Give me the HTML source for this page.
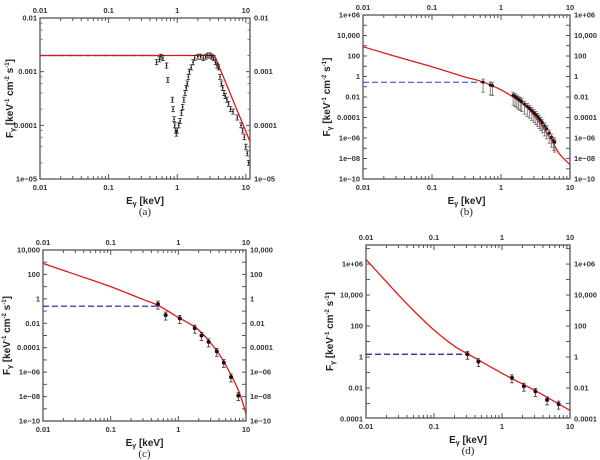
<!DOCTYPE html>
<html><head><meta charset="utf-8"><style>
html,body{margin:0;padding:0;background:#fff;width:600px;height:460px;overflow:hidden}
svg text{font-family:"Liberation Sans",sans-serif}
svg text.cap{font-family:"Liberation Serif",serif}
</style></head><body>
<svg id="fig" width="600" height="460" viewBox="0 0 600 460" xmlns="http://www.w3.org/2000/svg"></svg>
<script>
// Panel (a)
const aDataE=[0.50,0.55,0.58,0.62,0.70,0.73,0.85,0.87,0.90,0.92,0.95,0.97,1.0,1.05,1.1,1.15,1.2,1.25,1.3,1.35,1.4,1.45,1.5,1.6,1.7,1.8,2.0,2.2,2.4,2.6,2.8,3.0,3.2,3.4,3.6,3.8,4.0,4.2,4.4,4.6,4.8,5.0,5.3,5.6,6.0,6.5,7.5,8.5,9.0,9.5,10,10.5,11];
const aDataF=[0.0015,0.0017,0.0019,0.0018,0.0013,0.0007,0.0003,0.0002,0.00013,0.0001,0.00008,0.00007,0.00008,0.0001,0.00012,0.00017,0.00022,0.0003,0.0004,0.0005,0.0006,0.0008,0.001,0.0012,0.0015,0.0018,0.0019,0.0019,0.0018,0.0019,0.002,0.002,0.0019,0.0018,0.0015,0.0013,0.0012,0.0008,0.0006,0.0005,0.0004,0.00035,0.0003,0.00025,0.0002,0.00018,0.00014,0.0001,0.00008,0.00006,0.00004,0.00003,0.00002];
const aModelE=[0.01,3.5,11.5];
const aModelF=[0.002,0.002,0.00005];
const aDashE=[0.01,0.55];
const aDashF=[0.002,0.002];
// Panel (b)
const bDataE=[0.55,0.7,0.75,1.5,1.6,1.7,1.8,1.9,2.0,2.2,2.4,2.6,2.8,3.0,3.2,3.4,3.6,3.8,4.0,4.3,4.6,5.0,5.4,5.8,6.0];
const bDataF=[0.28,0.15,0.13,0.015,0.011,0.008,0.006,0.0045,0.0035,0.002,0.0012,0.0008,0.0005,0.0003,0.0002,0.00013,0.00008,0.00005,0.00003,0.000015,0.000008,0.000003,0.0000012,0.0000006,0.0000004];
const bModelE=[0.01,0.03,0.1,0.3,0.5,1,2,3,5,7,10];
const bModelF=[800,90,9,0.9,0.36,0.05,0.0025,0.00016,0.0000013,0.00000003,0.0000000025];
const bDashE=[0.01,0.55];
const bDashF=[0.27,0.27];
// Panel (c)
const cDataE=[0.5,0.65,1.05,1.75,2.2,2.8,3.7,4.7,6.0,7.7];
const cDataF=[0.37,0.047,0.025,0.004,0.001,0.0003,0.00005,0.000006,0.0000004,0.000000012];
const cModelE=[0.01,0.03,0.1,0.3,0.5,1,2,4,6,8,10];
const cModelF=[800,100,10,0.9,0.3,0.03,0.0028,0.00003,0.0000006,0.00000002,0.0000000004];
const cDashE=[0.01,0.5];
const cDashF=[0.25,0.25];
// Panel (d)
const dDataE=[0.31,0.45,1.4,2.1,3.1,4.6,6.8];
const dDataF=[1.5,0.5,0.045,0.013,0.006,0.0017,0.0009];
const dModelE=[0.01,0.02,0.0316,0.05,0.1,0.2,0.316,1,3.16,10];
const dModelF=[2000000,70800,7940,1000,55,5,1.58,0.089,0.0063,0.00036];
const dDashE=[0.01,0.31];
const dDashF=[1.5,1.5];
// Tick labels
const aYTicks=[0.01,0.001,0.0001,0.00001];
const aYLabels=["0.01","0.001","0.0001","1e\u221205"];
const bYTicks=[1e6,1e4,100,1,0.01,1e-4,1e-6,1e-8,1e-10];
const bYLabels=["1e+06","10,000","100","1","0.01","0.0001","1e\u221206","1e\u221208","1e\u221210"];
const cYTicks=[1e4,100,1,0.01,1e-4,1e-6,1e-8,1e-10];
const cYLabels=["10,000","100","1","0.01","0.0001","1e\u221206","1e\u221208","1e\u221210"];
const dYTicks=[1e6,1e4,100,1,0.01,1e-4];
const dYLabels=["1e+06","10,000","100","1","0.01","0.0001"];
const xTicks=[0.01,0.1,1,10];
const xLabels=["0.01","0.1","1","10"];

const NS="http://www.w3.org/2000/svg";
const fig=document.getElementById('fig');
function mk(tag,attrs,parent){const e=document.createElementNS(NS,tag);for(const k in attrs)e.setAttribute(k,attrs[k]);(parent||fig).appendChild(e);return e;}
function smoothPath(pts,smooth){
  if(!smooth||pts.length<3)return 'M'+pts.map(p=>p[0].toFixed(2)+','+p[1].toFixed(2)).join(' L');
  let d='M'+pts[0][0]+','+pts[0][1];
  for(let i=0;i<pts.length-1;i++){
    const p0=pts[Math.max(0,i-1)],p1=pts[i],p2=pts[i+1],p3=pts[Math.min(pts.length-1,i+2)];
    const c1=[p1[0]+(p2[0]-p0[0])/6,p1[1]+(p2[1]-p0[1])/6];
    const c2=[p2[0]-(p3[0]-p1[0])/6,p2[1]-(p3[1]-p1[1])/6];
    d+=` C${c1[0].toFixed(2)},${c1[1].toFixed(2)} ${c2[0].toFixed(2)},${c2[1].toFixed(2)} ${p2[0].toFixed(2)},${p2[1].toFixed(2)}`;
  }
  return d;
}

function panel(p){
  const g=mk('g',{});
  
  
  const L=Math.log10;
  const sx=v=>p.x0+(L(v)-L(p.xmin))/(L(p.xmax)-L(p.xmin))*(p.x1-p.x0);
  const sy=v=>p.y1-(L(v)-L(p.ymin))/(L(p.ymax)-L(p.ymin))*(p.y1-p.y0);
  const fr=mk('rect',{x:p.x0,y:p.y0,width:p.x1-p.x0,height:p.y1-p.y0,fill:'none',stroke:'#555','stroke-width':1.3},g);
  
  
  for(let d=-2;d<=1;d++){for(let m=1;m<10;m++){const v=m*Math.pow(10,d);if(v>p.xmax*1.0001)break;const x=sx(v);const len=m===1?5:3;
    mk('line',{x1:x,x2:x,y1:p.y1,y2:p.y1-len,stroke:'#555'},g);mk('line',{x1:x,x2:x,y1:p.y0,y2:p.y0+len,stroke:'#555'},g);}}
  xTicks.forEach((v,i)=>{const x=sx(v);
    const t1=mk('text',{x:x,y:p.y1+11,'font-size':7.5,'text-anchor':'middle',fill:'#333','font-weight':'bold'},g);t1.textContent=xLabels[i];
    
    
    const t2=mk('text',{x:x,y:p.y0-5,'font-size':7.5,'text-anchor':'middle',fill:'#333','font-weight':'bold'},g);t2.textContent=xLabels[i];
    
    });
  const lmin=Math.ceil(L(p.ymin)-1e-9),lmax=Math.floor(L(p.ymax)+1e-9);
  for(let d=lmin;d<=lmax;d++){const y=sy(Math.pow(10,d));
    mk('line',{x1:p.x0,x2:p.x0+4,y1:y,y2:y,stroke:'#555'},g);mk('line',{x1:p.x1,x2:p.x1-4,y1:y,y2:y,stroke:'#555'},g);
    if(p.minorY){for(let m=2;m<10;m+=p.minorY){const yy=sy(m*Math.pow(10,d));if(yy<p.y0)break;
      mk('line',{x1:p.x0,x2:p.x0+2.5,y1:yy,y2:yy,stroke:'#777'},g);mk('line',{x1:p.x1,x2:p.x1-2.5,y1:yy,y2:yy,stroke:'#777'},g);}}}
  p.yt.forEach((v,i)=>{const y=sy(v)+2.5;
    const t1=mk('text',{x:p.x0-3,y:y,'font-size':7.5,'text-anchor':'end',fill:'#333','font-weight':'bold'},g);t1.textContent=p.yl[i];
    
    
    const t2=mk('text',{x:p.x1+4,y:y,'font-size':7.5,'text-anchor':'start',fill:'#333','font-weight':'bold'},g);t2.textContent=p.yl[i];
    
    });
  const cx=(p.x0+p.x1)/2;
  const xt=mk('text',{x:cx,y:p.y1+25,'font-size':10,'text-anchor':'middle','font-weight':'bold',fill:'#222'},g);
  xt.innerHTML='E<tspan font-size="7" dy="2">\u03b3</tspan><tspan dy="-2"> [keV]</tspan>';
  
  
  const cy=(p.y0+p.y1)/2;
  const yt=mk('text',{x:0,y:0,'font-size':10,'text-anchor':'middle','font-weight':'bold',fill:'#222',transform:`translate(${p.x0-p.ytOff},${cy}) rotate(-90)`},g);
  yt.innerHTML='F<tspan font-size="7" dy="2">\u03b3</tspan><tspan dy="-2"> [keV</tspan><tspan font-size="6" dy="-4">-1</tspan><tspan dy="4"> cm</tspan><tspan font-size="6" dy="-4">-2</tspan><tspan dy="4"> s</tspan><tspan font-size="6" dy="-4">-1</tspan><tspan dy="4">]</tspan>';
  
  
  const cap=mk('text',{x:cx,y:p.y1+36,'font-size':11,'text-anchor':'middle',fill:'#222','class':'cap'},g);
  cap.textContent='('+p.id+')';
  
  
  const cid='clip'+p.id;
  const cp=mk('clipPath',{id:cid},g);mk('rect',{x:p.x0,y:p.y0,width:p.x1-p.x0,height:p.y1-p.y0},cp);
  const pg=mk('g',{'clip-path':`url(#${cid})`},g);
  const dl=mk('polyline',{points:p.dashE.map((e,i)=>sx(e)+','+sy(p.dashF[i])).join(' '),fill:'none',stroke:p.dashColor,'stroke-width':1.2,'stroke-dasharray':'6,3'},pg);
  
  
  const ml=mk('path',{d:smoothPath(p.modelE.map((e,i)=>[sx(e),sy(p.modelF[i])]),p.smooth),fill:'none',stroke:'#dd1a1a','stroke-width':1.3,'stroke-linejoin':'round'},pg);
  
  
  p.dataE.forEach((e,i)=>{const x=sx(e),y=sy(p.dataF[i]);
    const dg=mk('g',{},pg);
    
    
    const up=p.errUp,dn=p.errDn;
    mk('line',{x1:x,x2:x,y1:y-up,y2:y+dn,stroke:p.errColor,'stroke-width':0.8},dg);
    mk('line',{x1:x-1.8,x2:x+1.8,y1:y-up,y2:y-up,stroke:p.errColor,'stroke-width':0.8},dg);
    mk('line',{x1:x-1.8,x2:x+1.8,y1:y+dn,y2:y+dn,stroke:p.errColor,'stroke-width':0.8},dg);
    if(p.dot)mk('circle',{cx:x,cy:y,r:p.dot,fill:'#2a0a0a'},dg);});
}
panel({id:'a',x0:40,x1:250,xmin:0.01,xmax:11.5,y0:18,y1:179,ymin:1e-5,ymax:0.01,yt:aYTicks,yl:aYLabels,minorY:2,ytOff:27,smooth:false,dashColor:'#1a1a8c',errColor:'#222',
  dataE:aDataE,dataF:aDataF,modelE:aModelE,modelF:aModelF,dashE:aDashE,dashF:aDashF,errUp:2.5,errDn:2.5,dot:0.9});
panel({id:'b',x0:363,x1:570,xmin:0.01,xmax:10,y0:15,y1:179,ymin:1e-10,ymax:1e6,yt:bYTicks,yl:bYLabels,minorY:0,ytOff:33,smooth:true,dashColor:'#4a4ae0',errColor:'#666',
  dataE:bDataE,dataF:bDataF,modelE:bModelE,modelF:bModelF,dashE:bDashE,dashF:bDashF,errUp:3,errDn:10,dot:1.6});
panel({id:'c',x0:43,x1:246,xmin:0.01,xmax:10,y0:250,y1:421,ymin:1e-10,ymax:1e4,yt:cYTicks,yl:cYLabels,minorY:0,ytOff:33,smooth:true,dashColor:'#1a1a8c',errColor:'#333',
  dataE:cDataE,dataF:cDataF,modelE:cModelE,modelF:cModelF,dashE:cDashE,dashF:cDashF,errUp:3,errDn:5,dot:2});
panel({id:'d',x0:366,x1:570,xmin:0.01,xmax:10,y0:245,y1:418,ymin:1.15e-4,ymax:1.7e7,yt:dYTicks,yl:dYLabels,minorY:0,ytOff:33,smooth:true,dashColor:'#1a1a8c',errColor:'#333',
  dataE:dDataE,dataF:dDataF,modelE:dModelE,modelF:dModelF,dashE:dDashE,dashF:dDashF,errUp:3,errDn:5,dot:2});
</script>
</body></html>
